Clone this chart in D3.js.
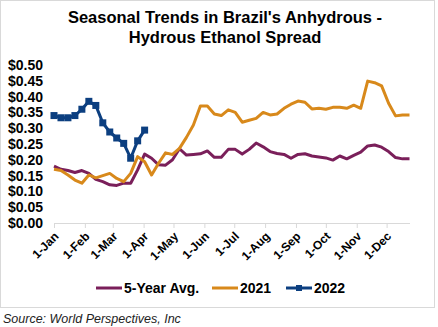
<!doctype html>
<html>
<head>
<meta charset="utf-8">
<script src="https://d3js.org/d3.v7.min.js"></script>
<style>
    body { margin: 0; background: #fff; }
    text { font-family: "Liberation Sans", Arial, sans-serif; }
</style>
</head>
<body>
<script>
    var canvasWidth = 438;
    var canvasHeight = 327;

    // weekly spread values, $/liter
    var fiveYearAvg = [0.18, 0.17, 0.166, 0.16, 0.166, 0.157, 0.138, 0.131, 0.121, 0.119, 0.126, 0.126, 0.168,
        0.218, 0.205, 0.184, 0.183, 0.2, 0.235, 0.215, 0.217, 0.219, 0.228, 0.208, 0.208, 0.233,
        0.233, 0.218, 0.233, 0.253, 0.241, 0.226, 0.22, 0.217, 0.205, 0.217, 0.219, 0.212, 0.209,
        0.206, 0.199, 0.212, 0.203, 0.214, 0.224, 0.244, 0.247, 0.24, 0.226, 0.207, 0.203, 0.203];
    var y2021 = [0.17, 0.166, 0.152, 0.136, 0.126, 0.152, 0.143, 0.15, 0.157, 0.141, 0.131, 0.157, 0.21,
        0.194, 0.152, 0.189, 0.222, 0.217, 0.236, 0.271, 0.31, 0.37, 0.37, 0.345, 0.34, 0.358,
        0.35, 0.319, 0.325, 0.331, 0.35, 0.342, 0.345, 0.363, 0.376, 0.386, 0.382, 0.361, 0.363,
        0.36, 0.366, 0.366, 0.363, 0.373, 0.363, 0.449, 0.444, 0.434, 0.379, 0.339, 0.342, 0.342];
    var y2022 = [0.34, 0.333, 0.333, 0.34, 0.36, 0.385, 0.372, 0.317, 0.288, 0.269, 0.252, 0.205, 0.26, 0.294];

    var seriesNames = ["5-Year Avg.", "2021", "2022"];
    var seriesColors = ["#7a1f5a", "#d8891b", "#0c3f80"];
    var yTicks = [0, 0.05, 0.1, 0.15, 0.2, 0.25, 0.3, 0.35, 0.4, 0.45, 0.5];

    // one point per week, starting 1-Jan (plotted on a single calendar year)
    var start = new Date(2021, 0, 1);
    var weeks = d3.range(52).map(function(i) { return d3.timeDay.offset(start, 7 * i); });

    var svg = d3.select("body").append("svg")
        .attr("width", canvasWidth)
        .attr("height", canvasHeight);

    // chart border
    svg.append("rect")
        .attr("x", 0.5).attr("y", 0.5)
        .attr("width", 434).attr("height", 307)
        .attr("fill", "none")
        .attr("stroke", "#d9d9d9");

    var xScale = d3.scaleTime()
        .domain([start, weeks[51]])
        .range([54, 409.5]);
    var yScale = d3.scaleLinear()
        .domain([0, 0.5])
        .range([223, 65]);

    // title
    var title = svg.append("text")
        .attr("text-anchor", "middle")
        .attr("font-size", "16.5px")
        .attr("font-weight", "bold")
        .attr("fill", "#000");
    title.append("tspan").attr("x", 225).attr("y", 23).text("Seasonal Trends in Brazil's Anhydrous -");
    title.append("tspan").attr("x", 225).attr("y", 43).text("Hydrous Ethanol Spread");

    // y axis: labels only
    var yAxis = svg.append("g")
        .attr("transform", "translate(43,0)")
        .call(d3.axisLeft(yScale).tickValues(yTicks).tickFormat(d3.format("$.2f")).tickSize(0).tickPadding(0));
    yAxis.select(".domain").remove();
    yAxis.selectAll("text")
        .attr("font-family", "Liberation Sans, Arial, sans-serif")
        .attr("font-size", "14px")
        .attr("font-weight", "bold")
        .attr("fill", "#000");

    // x axis
    var xAxis = svg.append("g")
        .attr("transform", "translate(0,223)")
        .call(d3.axisBottom(xScale)
            .tickValues(d3.timeMonth.range(start, new Date(2021, 11, 2)))
            .tickFormat(d3.timeFormat("%-d-%b"))
            .tickSizeInner(5)
            .tickSizeOuter(0));
    xAxis.select(".domain").attr("stroke", "#d9d9d9").attr("stroke-width", 1.2);
    xAxis.selectAll(".tick line").attr("stroke", "#d9d9d9");
    xAxis.selectAll(".tick text")
        .attr("font-family", "Liberation Sans, Arial, sans-serif")
        .attr("font-size", "12px")
        .attr("font-weight", "bold")
        .attr("fill", "#000")
        .attr("text-anchor", "end")
        .attr("y", 0).attr("dy", 0)
        .attr("transform", "translate(5,14) rotate(-45)");

    var line = d3.line()
        .x(function(d, i) { return xScale(weeks[i]); })
        .y(function(d) { return yScale(d); });

    var allSeries = [fiveYearAvg, y2021, y2022];
    allSeries.forEach(function(values, k) {
        svg.append("path")
            .datum(values)
            .attr("fill", "none")
            .attr("stroke", seriesColors[k])
            .attr("stroke-width", 3)
            .attr("stroke-linejoin", "round")
            .attr("d", line);
    });

    // square markers on 2022
    svg.selectAll(".mark2022")
        .data(y2022)
        .enter().append("rect")
        .attr("class", "mark2022")
        .attr("x", function(d, i) { return xScale(weeks[i]) - 3.5; })
        .attr("y", function(d) { return yScale(d) - 3.5; })
        .attr("width", 7)
        .attr("height", 7)
        .attr("fill", seriesColors[2]);

    // legend
    var legendX = [96, 212, 286];
    var legend = svg.selectAll(".legend")
        .data(seriesNames)
        .enter().append("g")
        .attr("class", "legend")
        .attr("transform", function(d, i) { return "translate(" + legendX[i] + ",288)"; });
    legend.append("line")
        .attr("x1", 0).attr("x2", 26)
        .attr("stroke", function(d, i) { return seriesColors[i]; })
        .attr("stroke-width", 3);
    legend.filter(function(d, i) { return i === 2; })
        .append("rect")
        .attr("x", 10).attr("y", -3).attr("width", 6).attr("height", 6)
        .attr("fill", seriesColors[2]);
    legend.append("text")
        .attr("x", 28)
        .attr("dy", "0.35em")
        .attr("font-size", "14px")
        .attr("font-weight", "bold")
        .text(function(d) { return d; });

    // source note
    svg.append("text")
        .attr("x", 3)
        .attr("y", 323)
        .attr("font-size", "12.5px")
        .attr("font-style", "italic")
        .attr("fill", "#222")
        .text("Source: World Perspectives, Inc");
</script>
</body>
</html>
